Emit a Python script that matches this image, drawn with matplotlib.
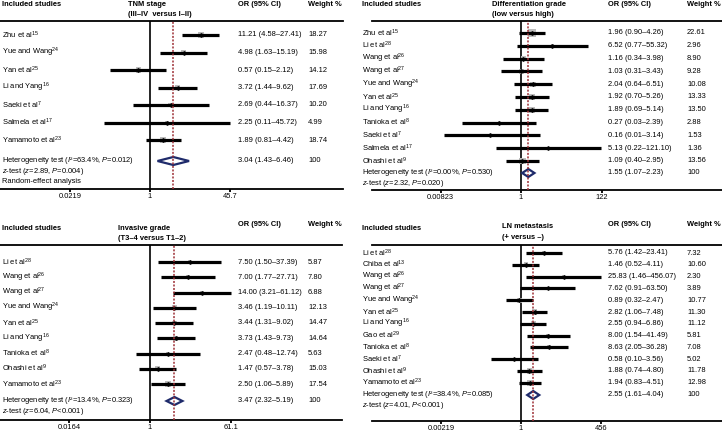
import matplotlib
matplotlib.use('Agg')
import matplotlib.pyplot as plt
import numpy as np
from matplotlib.transforms import blended_transform_factory
from matplotlib.ticker import FixedLocator, FixedFormatter, NullLocator
from matplotlib.patches import Polygon

plt.rcParams['font.family'] = ['Liberation Sans', 'DejaVu Sans']
plt.rcParams['mathtext.fontset'] = 'custom'
plt.rcParams['mathtext.rm'] = 'Liberation Sans'
plt.rcParams['mathtext.it'] = 'Liberation Sans:italic'
plt.rcParams['mathtext.bf'] = 'Liberation Sans:bold'

# ---------------- data ----------------
tnm_studies = [r"Zhu et al$^{15}$", r"Yue and Wang$^{24}$", r"Yan et al$^{25}$", r"Li and Yang$^{16}$",
               r"Saeki et al$^{7}$", r"Salmela et al$^{17}$", r"Yamamoto et al$^{23}$"]
tnm_or = [11.21, 4.98, 0.57, 3.72, 2.69, 2.25, 1.89]
tnm_lo = [4.58, 1.63, 0.15, 1.44, 0.44, 0.11, 0.81]
tnm_hi = [27.41, 15.19, 2.12, 9.62, 16.37, 45.72, 4.42]
tnm_wt = ["18.27", "15.98", "14.12", "17.69", "10.20", "4.99", "18.74"]
tnm_pooled = (3.04, 1.43, 6.46)
tnm_het = [r"Heterogeneity test ($I$²=63.4%, $P$=0.012)", r"$z$-test ($z$=2.89, $P$=0.004)",
           "Random-effect analysis"]
tnm_title = ["TNM stage", "(III–IV  versus I–II)"]
tnm_ticks = [0.0219, 1, 45.7]
tnm_ticklabels = ["0.0219", "1", "45.7"]

dif_studies = [r"Zhu et al$^{15}$", r"Li et al$^{28}$", r"Wang et al$^{26}$", r"Wang et al$^{27}$",
               r"Yue and Wang$^{24}$", r"Yan et al$^{25}$", r"Li and Yang$^{16}$", r"Tanioka et al$^{8}$",
               r"Saeki et al$^{7}$", r"Salmela et al$^{17}$", r"Ohashi et al$^{9}$"]
dif_or = [1.96, 6.52, 1.16, 1.03, 2.04, 1.92, 1.89, 0.27, 0.16, 5.13, 1.09]
dif_lo = [0.90, 0.77, 0.34, 0.31, 0.64, 0.70, 0.69, 0.03, 0.01, 0.22, 0.40]
dif_hi = [4.26, 55.32, 3.98, 3.43, 6.51, 5.26, 5.14, 2.39, 3.14, 121.10, 2.95]
dif_wt = ["22.61", "2.96", "8.90", "9.28", "10.08", "13.33", "13.50", "2.88", "1.53", "1.36", "13.56"]
dif_pooled = (1.55, 1.07, 2.23)
dif_het = [r"Heterogeneity test ($I$²=0.00%, $P$=0.530)", r"$z$-test ($z$=2.32, $P$=0.020)"]
dif_title = ["Differentiation grade", "(low versus high)"]
dif_ticks = [0.00823, 1, 122]
dif_ticklabels = ["0.00823", "1", "122"]

inv_studies = [r"Li et al$^{28}$", r"Wang et al$^{26}$", r"Wang et al$^{27}$", r"Yue and Wang$^{24}$",
               r"Yan et al$^{25}$", r"Li and Yang$^{16}$", r"Tanioka et al$^{8}$", r"Ohashi et al$^{9}$",
               r"Yamamoto et al$^{23}$"]
inv_or = [7.50, 7.00, 14.00, 3.46, 3.44, 3.73, 2.47, 1.47, 2.50]
inv_lo = [1.50, 1.77, 3.21, 1.19, 1.31, 1.43, 0.48, 0.57, 1.06]
inv_hi = [37.39, 27.71, 61.12, 10.11, 9.02, 9.73, 12.74, 3.78, 5.89]
inv_wt = ["5.87", "7.80", "6.88", "12.13", "14.47", "14.64", "5.63", "15.03", "17.54"]
inv_pooled = (3.47, 2.32, 5.19)
inv_het = [r"Heterogeneity test ($I$²=13.4%, $P$=0.323)", r"$z$-test ($z$=6.04, $P$<0.001)"]
inv_title = ["Invasive grade", "(T3–4 versus T1–2)"]
inv_ticks = [0.0164, 1, 61.1]
inv_ticklabels = ["0.0164", "1", "61.1"]

ln_studies = [r"Li et al$^{28}$", r"Chiba et al$^{13}$", r"Wang et al$^{26}$", r"Wang et al$^{27}$",
              r"Yue and Wang$^{24}$", r"Yan et al$^{25}$", r"Li and Yang$^{16}$", r"Gao et al$^{29}$",
              r"Tanioka et al$^{8}$", r"Saeki et al$^{7}$", r"Ohashi et al$^{9}$", r"Yamamoto et al$^{23}$"]
ln_or = [5.76, 1.46, 25.83, 7.62, 0.89, 2.82, 2.55, 8.00, 8.63, 0.58, 1.88, 1.94]
ln_lo = [1.42, 0.52, 1.46, 0.91, 0.32, 1.06, 0.94, 1.54, 2.05, 0.10, 0.74, 0.83]
ln_hi = [23.41, 4.11, 456.07, 63.50, 2.47, 7.48, 6.86, 41.49, 36.28, 3.56, 4.80, 4.51]
ln_wt = ["7.32", "10.60", "2.30", "3.89", "10.77", "11.30", "11.12", "5.81", "7.08", "5.02", "11.78", "12.98"]
ln_pooled = (2.55, 1.61, 4.04)
ln_het = [r"Heterogeneity test ($I$²=38.4%, $P$=0.085)", r"$z$-test ($z$=4.01, $P$<0.001)"]
ln_title = ["LN metastasis", "(+ versus –)"]
ln_ticks = [0.00219, 1, 456]
ln_ticklabels = ["0.00219", "1", "456"]

# ---------------- drawing ----------------
W, H = 722, 432
fig = plt.figure(figsize=(W / 100, H / 100), dpi=100)
FS = 5.4
NAVY = '#1f2b6b'
RED = '#9e2f35'
GREY = '#bdbdbd'


def ftext(px, py, s, **kw):
    fig.text(px / W, 1 - py / H, s, fontsize=kw.pop('fontsize', FS), va='center', ha='left', **kw)


def fmt_ci(o, l, h):
    return f"{o:.2f} ({l:.2f}–{h:.2f})"


def panel(studies, orv, lo, hi, wt, pooled, het, title, ticks, ticklabels, cfg):
    L, R, T, B = cfg['box']
    one, ppd = cfg['one'], cfg['ppd']
    y0, dy, yp = cfg['rows']
    ax = fig.add_axes([L / W, 1 - B / H, (R - L) / W, (B - T) / H])
    ax.set_xscale('log')
    ax.set_xlim(10 ** ((L - one) / ppd), 10 ** ((R - one) / ppd))
    ax.set_ylim((B - y0) / dy, (T - y0) / dy)
    for s in ['left', 'right']:
        ax.spines[s].set_visible(False)
    for s in ['top', 'bottom']:
        ax.spines[s].set_linewidth(1.3)
    ax.set_yticks([])
    ax.xaxis.set_major_locator(FixedLocator(ticks))
    ax.xaxis.set_major_formatter(FixedFormatter(ticklabels))
    ax.xaxis.set_minor_locator(NullLocator())
    ax.tick_params(axis='x', length=2.0, width=1.3, pad=1.0, labelsize=FS)
    ax.patch.set_alpha(0)

    n = len(studies)
    ys = np.arange(n)
    ip = (yp - y0) / dy
    k = cfg['k']
    # squares
    sizes = [(k * np.sqrt(float(w)) * 0.72) ** 2 for w in wt]
    ax.scatter(orv, ys, marker='s', s=sizes, color=GREY, zorder=2, linewidths=0)
    ax.hlines(ys, lo, hi, color='black', lw=2.3, zorder=3)
    ax.plot(orv, ys, 'D', color='black', ms=1.8, zorder=4)
    ax.axvline(1, color='black', lw=1.2, zorder=1)
    # pooled diamond
    po, pl, ph = pooled
    hh = 4.0 / dy
    ax.add_patch(Polygon([(pl, ip), (po, ip - hh), (ph, ip), (po, ip + hh)], closed=True,
                         facecolor='white', edgecolor=NAVY, lw=1.6, zorder=4))
    ax.axvline(po, color=RED, lw=1.1, ls=(0, (1.3, 1.0)), zorder=5)

    tr = blended_transform_factory(fig.transFigure, ax.transData)
    lx, ox, wx = cfg['cols']
    for i in range(n):
        ax.text(lx / W, i, studies[i], transform=tr, fontsize=FS, va='center', ha='left')
        ax.text(ox / W, i, fmt_ci(orv[i], lo[i], hi[i]), transform=tr, fontsize=FS, va='center', ha='left')
        ax.text(wx / W, i, wt[i], transform=tr, fontsize=FS, va='center', ha='left')
    ax.text(ox / W, ip, fmt_ci(po, pl, ph), transform=tr, fontsize=FS, va='center', ha='left')
    ax.text(wx / W, ip, "100", transform=tr, fontsize=FS, va='center', ha='left')
    for j, s in enumerate(het):
        ax.text(lx / W, ip + j * 10.3 / dy, s, transform=tr, fontsize=FS, va='center', ha='left')

    hy, ty1, ty2, cy = cfg['heads']
    ftext(lx, hy, "Included studies", fontweight='bold')
    ftext(cfg['tx'], ty1, title[0], fontweight='bold')
    ftext(cfg['tx'], ty2, title[1], fontweight='bold')
    ftext(ox, cy, "OR (95% CI)", fontweight='bold')
    ftext(wx, cy, "Weight %", fontweight='bold')


panel(tnm_studies, tnm_or, tnm_lo, tnm_hi, tnm_wt, tnm_pooled, tnm_het, tnm_title, tnm_ticks, tnm_ticklabels,
      dict(box=(0, 343, 21, 189), one=150, ppd=48.2, rows=(35, 17.5, 161), cols=(1.5, 238, 308),
           heads=(4.5, 4.5, 14, 4.5), tx=128, k=1.4))
panel(dif_studies, dif_or, dif_lo, dif_hi, dif_wt, dif_pooled, dif_het, dif_title, dif_ticks, dif_ticklabels,
      dict(box=(372, 722, 21, 190), one=521, ppd=38.6, rows=(33, 12.8, 173), cols=(361.5, 608, 687),
           heads=(4.5, 4.5, 14, 4.5), tx=492, k=1.7))
panel(inv_studies, inv_or, inv_lo, inv_hi, inv_wt, inv_pooled, inv_het, inv_title, inv_ticks, inv_ticklabels,
      dict(box=(0, 342, 245, 420), one=150, ppd=45.3, rows=(262, 15.25, 401), cols=(1.5, 238, 308),
           heads=(228, 228, 239, 224), tx=118, k=1.3))
panel(ln_studies, ln_or, ln_lo, ln_hi, ln_wt, ln_pooled, ln_het, ln_title, ln_ticks, ln_ticklabels,
      dict(box=(372, 722, 245, 421), one=521, ppd=30.1, rows=(253, 11.8, 395), cols=(361.5, 608, 687),
           heads=(228, 227, 237, 224), tx=502, k=1.5))

fig.savefig('out.png', dpi=100)
